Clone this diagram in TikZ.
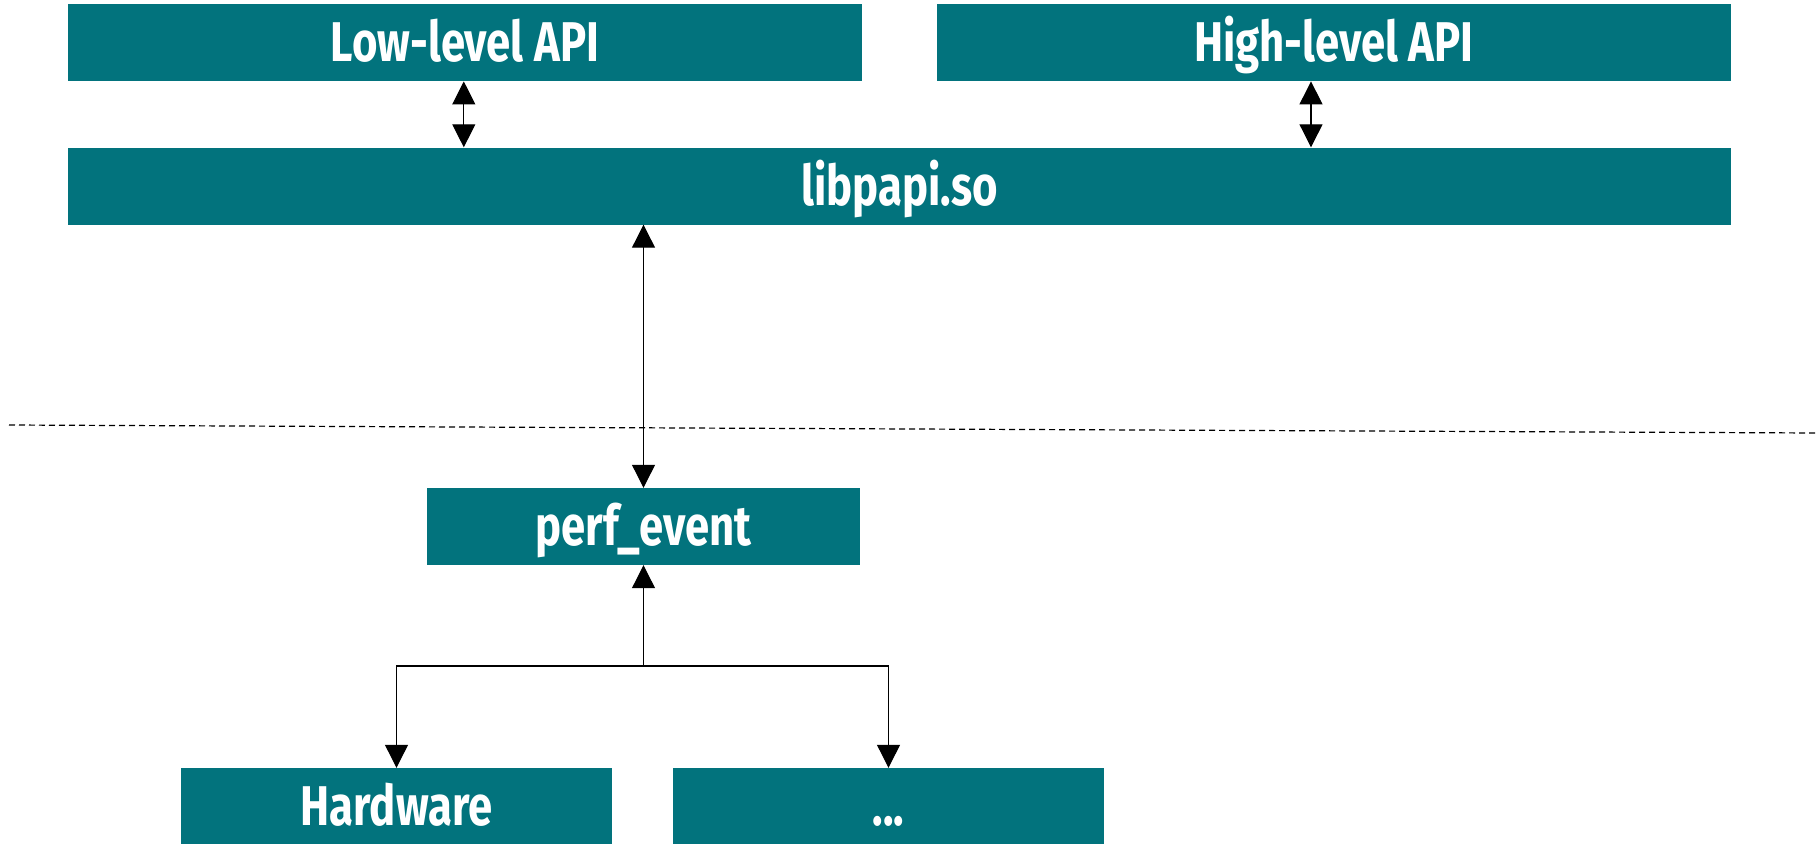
\documentclass[tikz,border=0pt]{standalone}
\usepackage{fontspec}
\newfontfamily\boxfont[FakeStretch=0.78]{Fira Sans}
\usetikzlibrary{arrows.meta}
\definecolor{boxteal}{RGB}{2,115,125}
\tikzset{
  layer/.style={rectangle, fill=boxteal, draw=none, inner sep=0pt,
    minimum height=77pt, text=white, text height=38pt, text depth=0pt,
    font=\boxfont\bfseries\fontsize{56}{56}\selectfont},
  link/.style={line width=1.1pt, draw=black,
    -{Triangle[length=23pt,width=23pt]}},
  biglink/.style={link, {Triangle[length=23pt,width=23pt]}-{Triangle[length=23pt,width=23pt]}},
  divider/.style={line width=1.2pt, dash pattern=on 6pt off 4pt, draw=black}
}
\begin{document}
\begin{tikzpicture}[x=1pt,y=-1pt]
\useasboundingbox (0,0) rectangle (1817,843);
\begin{scope}
\clip (0,0) rectangle (1817,843);
% user-space layer
\node[layer, minimum width=794.5pt] (low) at (465,42.7) {Low-level API};
\node[layer, minimum width=794pt] (high) at (1333.8,42.7) {High-level API};
\node[layer, minimum width=1663.5pt] (lib) at (899.5,186) {libpapi.so};
% kernel layer
\node[layer, minimum width=433pt] (perf) at (643.5,526.5) {perf\_event};
\node[layer, minimum width=431pt] (hw) at (396.5,806.5) {Hardware};
\node[layer, minimum width=431pt] (more) at (888.5,806.5) {...};
\end{scope}
% user / kernel boundary
\coordinate (sepL) at (9,425);
\coordinate (sepR) at (1817,433);
\draw[divider] (sepL) -- (sepR);
% connectors
\draw[biglink] (low.south -| 463.8,0) -- (lib.north -| 463.8,0);
\draw[biglink] (high.south -| 1311,0) -- (lib.north -| 1311,0);
\draw[biglink] (lib.south -| perf.north) -- (perf.north);
\coordinate (fork) at (643.5,666);
\draw[link] (fork) -- (perf.south);
\draw[link] (fork) -| (hw.north);
\draw[link] (fork) -| (more.north);
\end{tikzpicture}
\end{document}
